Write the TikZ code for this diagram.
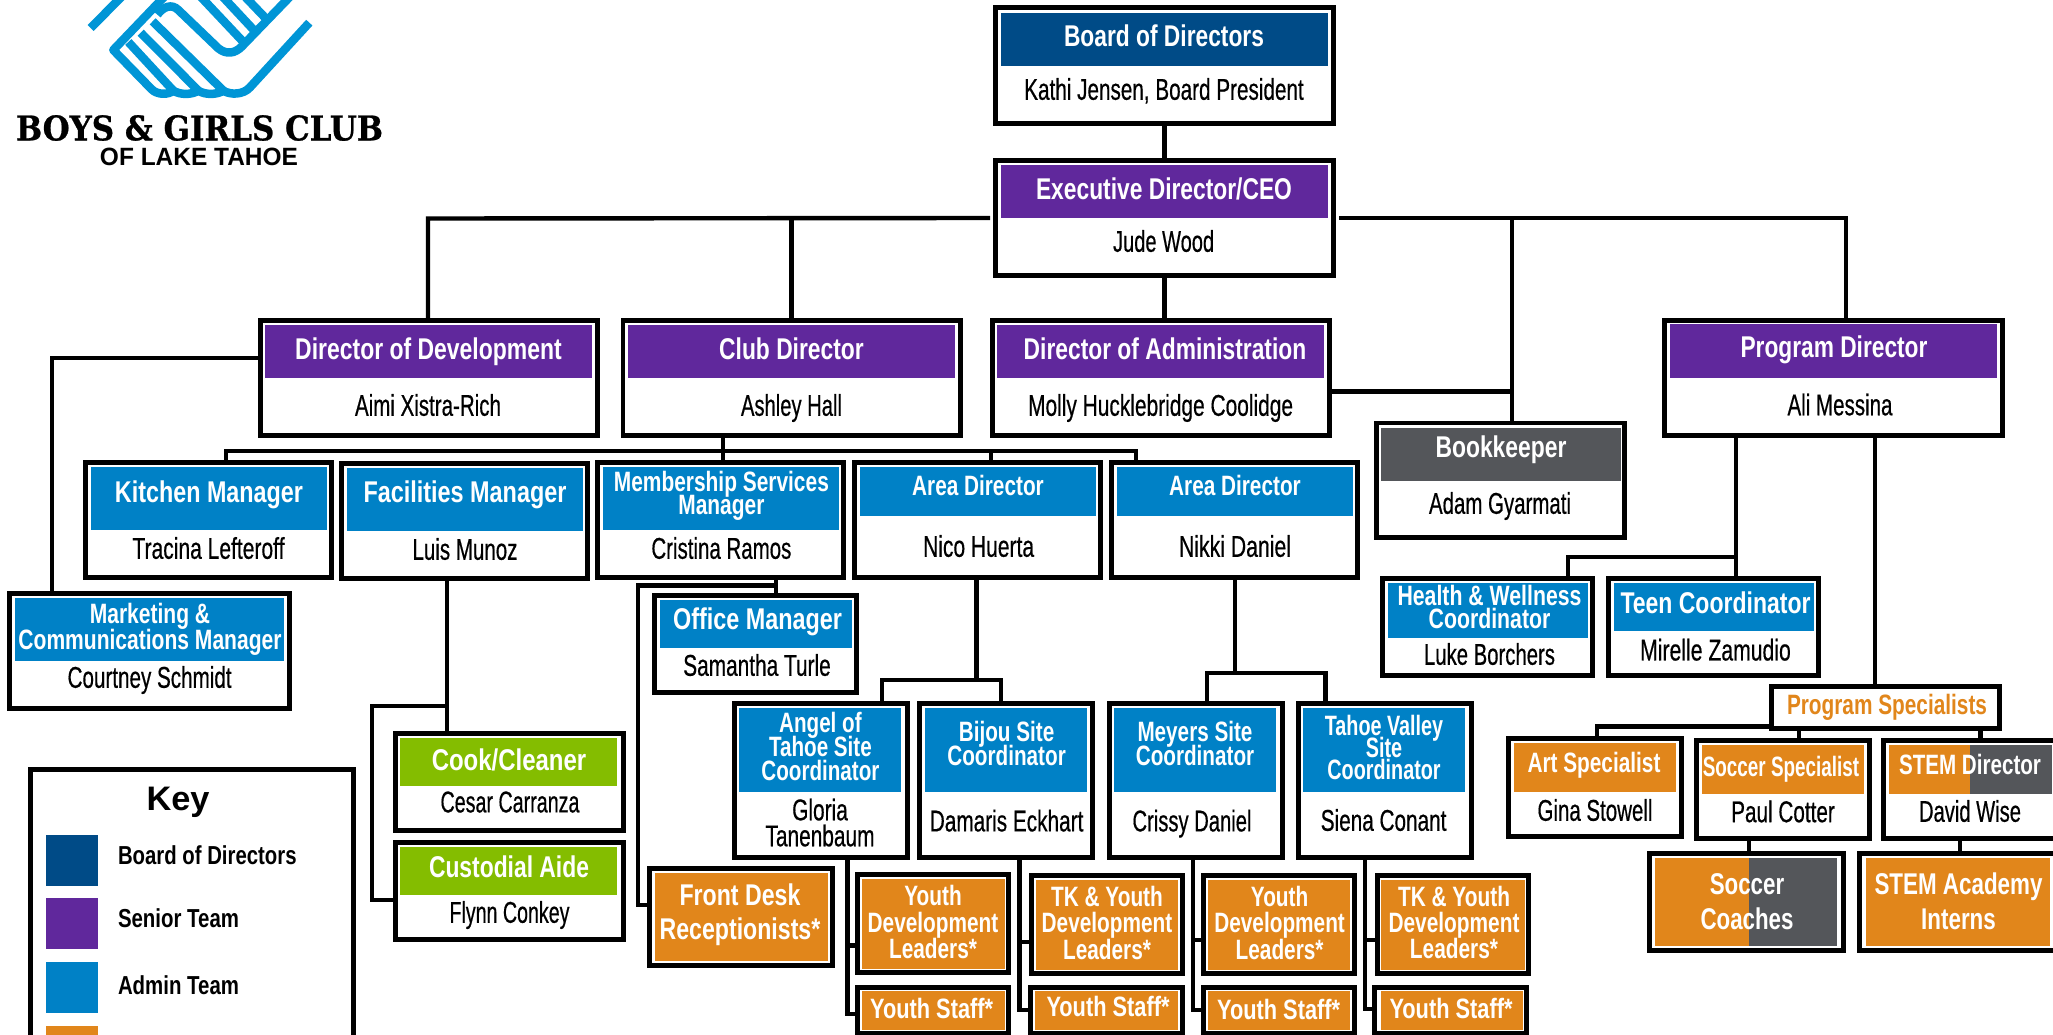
\documentclass[tikz,border=0pt]{standalone}
\usepackage{fontspec}
\usepackage{graphicx}
\setmainfont{Liberation Sans}
\newfontfamily\ttlf{Liberation Sans Bold}
\newfontfamily\whof[FakeBold=0.6]{Liberation Sans}
\newfontfamily\slabf[FakeBold=0.8]{DejaVu Serif}
\definecolor{cboard}{HTML}{004B87}
\definecolor{cpurple}{HTML}{60289C}
\definecolor{cblue}{HTML}{0081C6}
\definecolor{corange}{HTML}{E1861B}
\definecolor{cgreen}{HTML}{84BD00}
\definecolor{cgrey}{HTML}{54565A}
\definecolor{clogo}{HTML}{0095D6}
\tikzset{
  cardbox/.style={draw=black,line width=4.8pt,fill=white,inner sep=0pt},
  bandbox/.style={draw=none,inner sep=0pt,outer sep=0pt},
  conn/.style={draw=black,line width=4.4pt},
  tnode/.style={inner sep=0pt,outer sep=0pt,yshift=-2pt},
  ttl/.style={tnode,text=white,font=\ttlf\fontsize{30}{30}\selectfont},
  ttls/.style={tnode,text=white,font=\ttlf\fontsize{28}{30}\selectfont},
  who/.style={tnode,text=black,font=\whof\fontsize{30}{30}\selectfont},
  keylbl/.style={tnode,text=black,font=\ttlf\fontsize{26}{30}\selectfont},
  logostroke/.style={draw=clogo,line width=8.5pt,line join=round}
}
\newcommand\lines[2]{\vbox{\baselineskip=#1pt\lineskip=0pt\lineskiplimit=-100pt\halign{\hfil\vphantom{Ag}##\hfil\cr#2\crcr}}}
\newcommand\card[5]{\node[cardbox,minimum width={(#4-#2-4.8)*1pt},minimum height={(#5-#3-4.8)*1pt}] (#1) at ({(#2+#4)/2},{(#3+#5)/2}) {};}
\newcommand\cband[6]{\node[bandbox,fill=#6,minimum width={(#4-#2)*1pt},minimum height={(#5-#3)*1pt}] (#1) at ({(#2+#4)/2},{(#3+#5)/2}) {};}
% style, name, x, y, width, baseline skip, text
\newcommand\lbl[7][ttl]{\node[#1] (#2) at (#3,#4) {\resizebox{#5pt}{\height}{\lines{#6}{#7}}};}
\begin{document}
\begin{tikzpicture}[x=1pt,y=-1pt]
\useasboundingbox (0,0) rectangle (2053,1035);
% ---- logo
\begin{scope}[shift={(70,0)},x=0.3333pt,y=-0.3333pt]
\clip (-70,0) rectangle (800,320);
\draw[logostroke,line cap=butt] (62,84) -- (155,-10);
\draw[logostroke] (285,-12) -- (130,150) -- (245,268)
  .. controls (262,285) and (295,285) .. (310,272)
  .. controls (330,285) and (365,285) .. (385,272)
  .. controls (405,285) and (440,285) .. (460,272)
  .. controls (480,285) and (520,285) .. (540,262) -- (718,68);
\draw[logostroke] (175,126) -- (310,272);
\draw[logostroke] (212,98) -- (385,272);
\draw[logostroke] (248,64) -- (460,272);
\draw[logostroke] (262,44) .. controls (280,20) and (305,10) .. (325,30) -- (445,145)
  .. controls (470,165) and (495,160) .. (515,140) -- (660,-10);
\draw[logostroke] (392,-10) -- (522,128);
\draw[logostroke] (458,-10) -- (556,95);
\draw[logostroke] (525,-10) -- (592,60);
\end{scope}
\node[tnode,yshift=1pt,font=\slabf\bfseries\fontsize{34}{36}\selectfont] (logoA) at (199.5,127) {\resizebox{367pt}{\height}{BOYS \& GIRLS CLUB}};
\node[tnode,yshift=2pt,font=\bfseries\fontsize{25}{26}\selectfont] (logoB) at (199,157) {\resizebox{198pt}{\height}{OF LAKE TAHOE}};
% ---- top
\card{board}{993}{5}{1336}{126} \cband{boardB}{1001}{13}{1328}{66}{cboard}
\lbl{boardT}{1164}{37}{200}{30}{Board of Directors}
\lbl[who]{boardP}{1164}{90}{279.5}{30}{Kathi Jensen, Board President}
\card{exec}{993}{158}{1336}{278} \cband{execB}{1001}{165}{1328}{218}{cpurple}
\lbl{execT}{1164}{190}{256}{30}{Executive Director/CEO}
\lbl[who]{execP}{1163.6}{242}{101}{30}{Jude Wood}
% ---- directors
\card{dev}{258}{318}{600}{438} \cband{devB}{265}{325}{592}{378}{cpurple}
\lbl{devT}{428.5}{350}{266.5}{30}{Director of Development}
\lbl[who]{devP}{428}{406}{146}{30}{Aimi Xistra-Rich}
\card{club}{620.5}{318}{962.5}{438} \cband{clubB}{628}{325}{955}{378}{cpurple}
\lbl{clubT}{791.5}{350}{144.6}{30}{Club Director}
\lbl[who]{clubP}{791.5}{406}{101}{30}{Ashley Hall}
\card{adm}{990}{318}{1332}{438} \cband{admB}{997}{325}{1324}{378}{cpurple}
\lbl{admT}{1165}{350}{282.6}{30}{Director of Administration}
\lbl[who]{admP}{1160.6}{406}{265}{30}{Molly Hucklebridge Coolidge}
\card{prog}{1662}{318}{2005}{438} \cband{progB}{1670}{324}{1997}{378}{cpurple}
\lbl{progT}{1834}{348}{187}{30}{Program Director}
\lbl[who]{progP}{1840}{405.5}{105}{30}{Ali Messina}
\card{book}{1374}{420.5}{1627}{540} \cband{bookB}{1381}{427.5}{1621}{481}{cgrey}
\lbl{bookT}{1501}{448}{131}{30}{Bookkeeper}
\lbl[who]{bookP}{1500}{504}{142}{30}{Adam Gyarmati}
% ---- managers
\card{kit}{83}{460}{334}{580} \cband{kitB}{91}{467}{327}{530}{cblue}
\lbl{kitT}{209}{493}{188}{30}{Kitchen Manager}
\lbl[who]{kitP}{208.5}{549}{152}{30}{Tracina Lefteroff}
\card{fac}{339}{461}{590}{581} \cband{facB}{347}{468}{583}{531}{cblue}
\lbl{facT}{465}{493}{203}{30}{Facilities Manager}
\lbl[who]{facP}{465}{550}{105}{30}{Luis Munoz}
\card{mem}{595}{460}{845.5}{580} \cband{memB}{603}{467}{839}{530}{cblue}
\lbl[ttls]{memT}{721.4}{494}{215}{22.5}{Membership Services\cr Manager}
\lbl[who]{memP}{721.4}{549}{140}{30}{Cristina Ramos}
\card{areaA}{852}{460}{1103}{580} \cband{areaAB}{860}{467}{1096}{516}{cblue}
\lbl[ttls]{areaAT}{978}{486}{131.6}{30}{Area Director}
\lbl[who]{areaAP}{978.6}{547}{111}{30}{Nico Huerta}
\card{areaB}{1109}{460}{1360}{580} \cband{areaBB}{1117}{467}{1353}{516}{cblue}
\lbl[ttls]{areaBT}{1235}{486}{131.6}{30}{Area Director}
\lbl[who]{areaBP}{1235}{547}{112}{30}{Nikki Daniel}
\card{mkt}{7}{591}{292}{711} \cband{mktB}{15}{598}{284}{661}{cblue}
\lbl[ttls]{mktT}{150}{627}{263}{26}{Marketing \&\cr Communications Manager}
\lbl[who]{mktP}{149.6}{678}{164}{30}{Courtney Schmidt}
\card{office}{652}{593}{859}{694.5} \cband{officeB}{660}{600}{852}{648}{cblue}
\lbl{officeT}{757.6}{620}{169}{30}{Office Manager}
\lbl[who]{officeP}{757}{666}{147.5}{30}{Samantha Turle}
\card{cook}{393}{731}{626}{833} \cband{cookB}{400}{738}{617}{786}{cgreen}
\lbl{cookT}{509}{761}{154.5}{30}{Cook/Cleaner}
\lbl[who]{cookP}{510}{803}{139}{30}{Cesar Carranza}
\card{cust}{393}{840}{626}{942} \cband{custB}{400}{847}{617}{895}{cgreen}
\lbl{custT}{509}{868}{160}{30}{Custodial Aide}
\lbl[who]{custP}{509.5}{913}{120}{30}{Flynn Conkey}
% ---- site coordinators
\card{angel}{732}{701}{910}{860} \cband{angelB}{739}{708}{901}{792}{cblue}
\lbl[ttls]{angelT}{820.4}{747}{118}{24}{Angel of\cr Tahoe Site\cr Coordinator}
\lbl[who]{angelP}{820}{823.5}{109}{26}{Gloria\cr Tanenbaum}
\card{bijou}{917}{701}{1095}{860} \cband{bijouB}{925}{708}{1087}{792}{cblue}
\lbl[ttls]{bijouT}{1006.6}{744}{118.4}{24}{Bijou Site\cr Coordinator}
\lbl[who]{bijouP}{1006.6}{821.6}{153.6}{30}{Damaris Eckhart}
\card{mey}{1107}{701}{1285}{860} \cband{meyB}{1114}{708}{1276}{792}{cblue}
\lbl[ttls]{meyT}{1195}{744}{118.4}{24}{Meyers Site\cr Coordinator}
\lbl[who]{meyP}{1192}{821.6}{119}{30}{Crissy Daniel}
\card{tah}{1296}{701}{1474}{860} \cband{tahB}{1303}{708}{1465}{792}{cblue}
\lbl[ttls]{tahT}{1384}{748.7}{118.4}{22}{Tahoe Valley\cr Site\cr Coordinator}
\lbl[who]{tahP}{1383.6}{821}{125.7}{30}{Siena Conant}
% ---- orange staff
\card{front}{647}{866}{835}{968} \cband{frontB}{655}{873}{828}{961}{corange}
\lbl{frontT}{740}{913}{160.7}{34}{Front Desk\cr Receptionists*}
\card{ydlA}{855}{872}{1011}{975} \cband{ydlAB}{862}{879}{1005}{969}{corange}
\lbl[ttls]{ydlAT}{933}{923}{130.6}{26.5}{Youth\cr Development\cr Leaders*}
\card{ysA}{855}{985}{1011}{1036} \cband{ysAB}{862}{991}{1005}{1030}{corange}
\lbl[ttls]{ysAT}{931.6}{1009}{123}{30}{Youth Staff*}
\card{tkB}{1029}{873}{1185}{976} \cband{tkBB}{1036}{880}{1178}{970}{corange}
\lbl[ttls]{tkBT}{1107}{923.5}{130.6}{26.5}{TK \& Youth\cr Development\cr Leaders*}
\card{ysB}{1028}{985}{1185}{1036} \cband{ysBB}{1035}{991}{1178}{1030}{corange}
\lbl[ttls]{ysBT}{1108}{1007.5}{123}{30}{Youth Staff*}
\card{ydlC}{1201}{873}{1357}{976} \cband{ydlCB}{1208}{880}{1350}{970}{corange}
\lbl[ttls]{ydlCT}{1279.6}{923.5}{130.6}{26.5}{Youth\cr Development\cr Leaders*}
\card{ysC}{1201}{985}{1357}{1036} \cband{ysCB}{1208}{991}{1350}{1030}{corange}
\lbl[ttls]{ysCT}{1278.6}{1010}{123}{30}{Youth Staff*}
\card{tkD}{1375}{873}{1531}{976} \cband{tkDB}{1381}{880}{1525}{970}{corange}
\lbl[ttls]{tkDT}{1454}{923.5}{131}{26}{TK \& Youth\cr Development\cr Leaders*}
\card{ysD}{1372}{985}{1529}{1036} \cband{ysDB}{1380.5}{991}{1523}{1030}{corange}
\lbl[ttls]{ysDT}{1451}{1009}{123}{30}{Youth Staff*}
% ---- program side
\card{hw}{1380}{576}{1595}{678} \cband{hwB}{1388}{583}{1588}{638}{cblue}
\lbl[ttls]{hwT}{1489.5}{607.5}{184}{23}{Health \& Wellness\cr Coordinator}
\lbl[who]{hwP}{1489.5}{655}{131}{30}{Luke Borchers}
\card{teen}{1606}{576}{1821}{678} \cband{teenB}{1614}{583}{1814}{631}{cblue}
\lbl{teenT}{1715.5}{604}{190}{30}{Teen Coordinator}
\lbl[who]{teenP}{1715.5}{650.7}{150.7}{30}{Mirelle Zamudio}
\card{spec}{1769}{684}{2002}{731}
\lbl[ttls,text=corange]{specT}{1887}{705.5}{200}{30}{Program Specialists}
\card{art}{1506}{736}{1684}{839} \cband{artB}{1514}{743}{1676}{792}{corange}
\lbl[ttls]{artT}{1594}{763}{133}{30}{Art Specialist}
\lbl[who]{artP}{1595}{811}{115}{30}{Gina Stowell}
\card{soc}{1694}{738}{1872}{841} \cband{socB}{1702}{745}{1864}{794}{corange}
\lbl[ttls]{socT}{1781}{767}{156.5}{30}{Soccer Specialist}
\lbl[who]{socP}{1783}{812.4}{103.6}{30}{Paul Cotter}
\card{stem}{1881}{738}{2065}{841}
\cband{stemO}{1889}{745}{1970}{794}{corange}
\cband{stemG}{1970}{745}{2052}{794}{cgrey}
\lbl[ttls]{stemT}{1970}{765}{142}{30}{STEM Director}
\lbl[who]{stemP}{1970}{812}{102}{30}{David Wise}
\card{coach}{1647}{851}{1846}{953}
\cband{coachO}{1655}{858}{1749}{946}{corange}
\cband{coachG}{1749}{858}{1837}{946}{cgrey}
\lbl{coachT}{1747}{902.5}{93}{35}{Soccer\cr Coaches}
\card{intern}{1857}{851}{2065}{953} \cband{internB}{1866}{858}{2050}{946}{corange}
\lbl{internT}{1958.5}{902.5}{168}{35}{STEM Academy\cr Interns}
% ---- key
\card{key}{28}{767}{356}{1060}
\node[tnode,font=\bfseries\fontsize{34}{36}\selectfont] (keyT) at (178,800) {\resizebox{63pt}{\height}{Key}};
\cband{keyA}{46}{835}{98}{886}{cboard}
\cband{keyB}{46}{898}{98}{949}{cpurple}
\cband{keyC}{46}{962}{98}{1013}{cblue}
\cband{keyD}{46}{1026}{98}{1077}{corange}
\lbl[keylbl,anchor=west]{keyAT}{118}{856}{178.6}{30}{Board of Directors}
\lbl[keylbl,anchor=west]{keyBT}{118}{919}{121}{30}{Senior Team}
\lbl[keylbl,anchor=west]{keyCT}{118}{986}{121}{30}{Admin Team}
% ---- connectors
\coordinate (jDev) at (428,218.5);
\coordinate (jClub) at (791.5,218.5);
\coordinate (jBook) at (1512,218);
\coordinate (jProg) at (1846,218);
\coordinate (jAdm) at (1512,391.5);
\draw[conn] (board.south) -- (board.south |- exec.north);
\draw[conn] (exec.south) -- (exec.south |- adm.north);
\draw[conn,shorten <=3pt] (exec.west) -- (jDev) -- (jDev |- dev.north);
\draw[conn] (jClub) -- (jClub |- club.north);
\draw[conn,shorten <=3pt] (exec.east) -- (jProg) -- (jProg |- prog.north);
\draw[conn] (jBook) -- (jBook |- book.north);
\draw[conn] (adm.east |- jAdm) -- (jAdm);
% development -> marketing
\coordinate (jMkt) at (52,358);
\draw[conn] (dev.west |- jMkt) -- (jMkt) -- (jMkt |- mkt.north);
% club -> managers
\coordinate (jBus) at (723,451);
\coordinate (jKit) at (226,451);
\coordinate (jAreaA) at (991,451);
\coordinate (jAreaB) at (1136,451);
\draw[conn] (jBus |- club.south) -- (jBus |- mem.north);
\draw[conn] (jKit |- kit.north) -- (jKit) -- (jAreaB) -- (jAreaB |- areaB.north);
\draw[conn] (jAreaA) -- (jAreaA |- areaA.north);
% facilities -> cook, custodial
\coordinate (jFac) at (447,706);
\coordinate (jFacL) at (372,706);
\coordinate (jCust) at (372,900);
\draw[conn] (jFac |- fac.south) -- (jFac |- cook.north);
\draw[conn] (jFac) -- (jFacL) -- (jCust) -- (jCust -| cust.west);
% membership -> office, front desk
\coordinate (jMem) at (776,585.5);
\coordinate (jMemL) at (638,585.5);
\coordinate (jFront) at (638,905);
\draw[conn] (jMem |- mem.south) -- (jMem |- office.north);
\draw[conn] (jMem) -- (jMemL) -- (jFront) -- (jFront -| front.west);
% area -> sites
\coordinate (jA) at (976.5,680);
\coordinate (jAL) at (882,680);
\coordinate (jAR) at (1001,680);
\draw[conn] (jA |- areaA.south) -- (jA);
\draw[conn] (jAL |- angel.north) -- (jAL) -- (jAR) -- (jAR |- bijou.north);
\coordinate (jB) at (1235,673);
\coordinate (jBL) at (1207,673);
\coordinate (jBR) at (1325.5,673);
\draw[conn] (jB |- areaB.south) -- (jB);
\draw[conn] (jBL |- mey.north) -- (jBL) -- (jBR) -- (jBR |- tah.north);
% sites -> staff
\coordinate (sA) at (847.5,945.5); \coordinate (sAe) at (847.5,1014);
\draw[conn] (sA |- angel.south) -- (sAe) -- (sAe -| ysA.west);
\draw[conn] (sA) -- (sA -| ydlA.west);
\coordinate (sB) at (1019.4,942); \coordinate (sBe) at (1019.4,1010);
\draw[conn] (sB |- bijou.south) -- (sBe) -- (sBe -| ysB.west);
\draw[conn] (sB) -- (sB -| tkB.west);
\coordinate (sC) at (1193,940); \coordinate (sCe) at (1193,1010);
\draw[conn] (sC |- mey.south) -- (sCe) -- (sCe -| ysC.west);
\draw[conn] (sC) -- (sC -| ydlC.west);
\coordinate (sD) at (1365,940); \coordinate (sDe) at (1365,1009);
\draw[conn] (sD |- tah.south) -- (sDe) -- (sDe -| ysD.west);
\draw[conn] (sD) -- (sD -| tkD.west);
% program
\coordinate (pA) at (1736,557);
\coordinate (pAL) at (1568,557);
\draw[conn] (pA |- prog.south) -- (pA |- teen.north);
\draw[conn] (pA) -- (pAL) -- (pAL |- hw.north);
\coordinate (pB) at (1875,500);
\draw[conn] (pB |- prog.south) -- (pB |- spec.north);
\coordinate (pC) at (1597,726.6);
\draw[conn] (spec.west |- pC) -- (pC) -- (pC |- art.north);
\coordinate (pD) at (1799,735);
\coordinate (pE) at (1980.5,735);
\draw[conn] (pD |- spec.south) -- (pD |- soc.north);
\draw[conn] (pE |- spec.south) -- (pE |- stem.north);
\coordinate (pF) at (1749,846);
\coordinate (pG) at (1960,846);
\draw[conn] (pF |- soc.south) -- (pF |- coach.north);
\draw[conn] (pG |- stem.south) -- (pG |- intern.north);
\end{tikzpicture}
\end{document}
